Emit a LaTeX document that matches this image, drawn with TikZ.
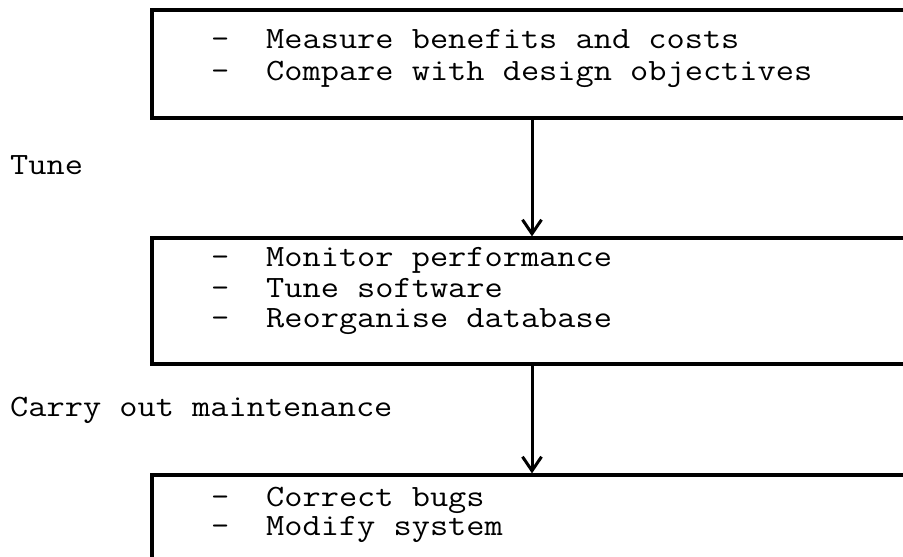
\documentclass[tikz,border=0pt]{standalone}
\usetikzlibrary{arrows.meta}
% typewriter text, widened to the pitch of the original typescript
\newcommand{\tw}[1]{\scalebox{1.14}[1]{#1}}
\begin{document}
\begin{tikzpicture}[x=1pt,y=-1pt,
  stage/.style={draw,line width=3.2pt,minimum width=760pt,inner sep=0pt},
  item/.style={anchor=base west,inner sep=0pt,font=\fontsize{31}{31}\ttfamily},
  flow/.style={line width=3pt,-{Straight Barb[length=14pt,width=19pt]}}]
\useasboundingbox (0,0) rectangle (903,557);
\clip (0,0) rectangle (903,557);

% three stages, running off the right-hand edge
\node[stage,minimum height=108pt] (b1) at (532,64) {};
\node[stage,minimum height=126pt] (b2) at (532,301) {};
\node[stage,minimum height=130pt] (b3) at (532,540) {};

% stage 1
\node[item] (d11) at (211,48) {\tw{-}};
\node[item] (t11) at (266,48) {\tw{Measure benefits and costs}};
\node[item] (d12) at (211,80) {\tw{-}};
\node[item] (t12) at (266,80) {\tw{Compare with design objectives}};

% stage 2
\node[item] (d21) at (211,266) {\tw{-}};
\node[item] (t21) at (266,266) {\tw{Monitor performance}};
\node[item] (d22) at (211,297) {\tw{-}};
\node[item] (t22) at (266,297) {\tw{Tune software}};
\node[item] (d23) at (211,327) {\tw{-}};
\node[item] (t23) at (266,327) {\tw{Reorganise database}};

% stage 3
\node[item] (d31) at (211,506) {\tw{-}};
\node[item] (t31) at (266,506) {\tw{Correct bugs}};
\node[item] (d32) at (211,535) {\tw{-}};
\node[item] (t32) at (266,535) {\tw{Modify system}};

% step labels
\node[item] (l1) at (10,174) {\tw{Tune}};
\node[item] (l2) at (10,416) {\tw{Carry out maintenance}};

% connectors
\draw[flow] (b1.south) -- (b2.north);
\draw[flow] (b2.south) -- (b3.north);
\end{tikzpicture}
\end{document}
